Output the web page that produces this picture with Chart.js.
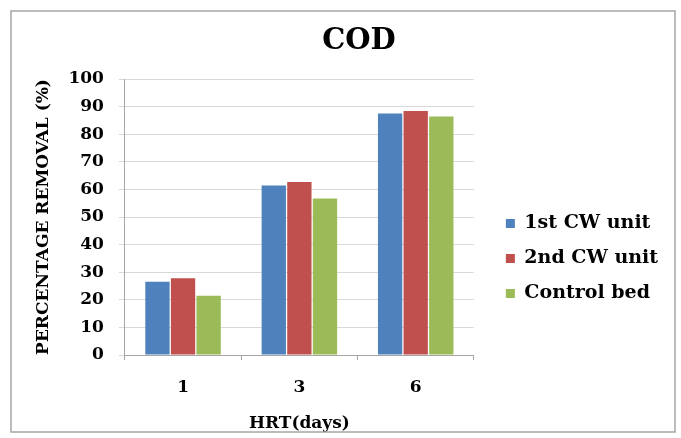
<!DOCTYPE html>
<html>
<head>
<meta charset="utf-8">
<script src="https://cdn.jsdelivr.net/npm/chart.js@4"></script>
<style>
  html, body { margin: 0; padding: 0; background: #fff; }
  #wrap { width: 681px; height: 438px; }
</style>
</head>
<body>
<div id="wrap"><canvas id="codChart"></canvas></div>
<script>
const hrtDays = ['1', '3', '6']
const firstUnit = [26.5, 61.4, 87.5]
const secondUnit = [27.8, 62.7, 88.4]
const controlBed = [21.5, 56.7, 86.4]
const yTicks = [0, 10, 20, 30, 40, 50, 60, 70, 80, 90, 100]

const serif = '"DejaVu Serif", "Liberation Serif", serif'

// frame around the chart and the title, placed like the Excel original
const framePlugin = {
    id: 'frame',
    beforeLayout(chart) {
        // let the legend be as wide as its labels need
        const lg = chart.legend
        if (lg && !lg._wide) {
            lg._wide = true
            const fit = lg.fit
            lg.fit = function () {
                this.maxWidth = 400
                fit.call(this)
            }
        }
    },
    afterDraw(chart) {
        const c = chart.ctx
        c.save()
        c.strokeStyle = '#a6a6a6'
        c.lineWidth = 1.5
        c.strokeRect(11, 11, 664, 421)
        c.fillStyle = '#000'
        c.font = 'bold 29px ' + serif
        c.textAlign = 'center'
        c.textBaseline = 'middle'
        c.fillText('COD', 359, 41)
        c.restore()
    }
}

const ctx = document.getElementById('codChart')
new Chart(ctx, {
    type: 'bar',
    data: {
        labels: hrtDays,
        datasets: [
            {label: '1st CW unit', data: firstUnit, backgroundColor: '#4f81bd'},
            {label: '2nd CW unit', data: secondUnit, backgroundColor: '#c0504d'},
            {label: 'Control bed', data: controlBed, backgroundColor: '#9bbb59'}
        ]
    },
    options: {
        responsive: true,
        maintainAspectRatio: false,
        animation: false,
        devicePixelRatio: 1,
        layout: {padding: {left: 28, right: 13, top: 79, bottom: 0}},
        datasets: {bar: {categoryPercentage: 0.66, barPercentage: 0.95}},
        plugins: {
            title: {display: false},
            tooltip: {enabled: false},
            legend: {
                position: 'right',
                labels: {
                    font: {family: serif, size: 19, weight: 'bold'},
                    color: '#000',
                    boxWidth: 9,
                    boxHeight: 9,
                    padding: 16
                }
            }
        },
        scales: {
            x: {
                grid: {display: true, drawOnChartArea: false, offset: true, tickLength: 5, color: '#a6a6a6'},
                border: {color: '#a6a6a6'},
                ticks: {font: {family: serif, size: 17, weight: 'bold', lineHeight: 1}, color: '#000', padding: 19},
                title: {display: true, text: 'HRT(days)', font: {family: serif, size: 17, weight: 'bold', lineHeight: 1}, color: '#000', padding: {top: 0, bottom: 6}}
            },
            y: {
                min: 0,
                max: 100,
                afterBuildTicks: axis => { axis.ticks = yTicks.map(v => ({value: v})) },
                grid: {color: '#d9d9d9', tickLength: 6},
                border: {color: '#a6a6a6'},
                ticks: {font: {family: serif, size: 17, weight: 'bold'}, color: '#000', padding: 15},
                title: {display: true, text: 'PERCENTAGE REMOVAL (%)', font: {family: serif, size: 17, weight: 'bold'}, color: '#000', padding: {top: 5, bottom: 0}}
            },
            // empty spacer between the plot and the legend
            gap: {
                position: 'right',
                grid: {display: false},
                border: {display: false},
                ticks: {display: false},
                afterFit: axis => { axis.width = 16 }
            }
        }
    },
    plugins: [framePlugin]
})
</script>
</body>
</html>
